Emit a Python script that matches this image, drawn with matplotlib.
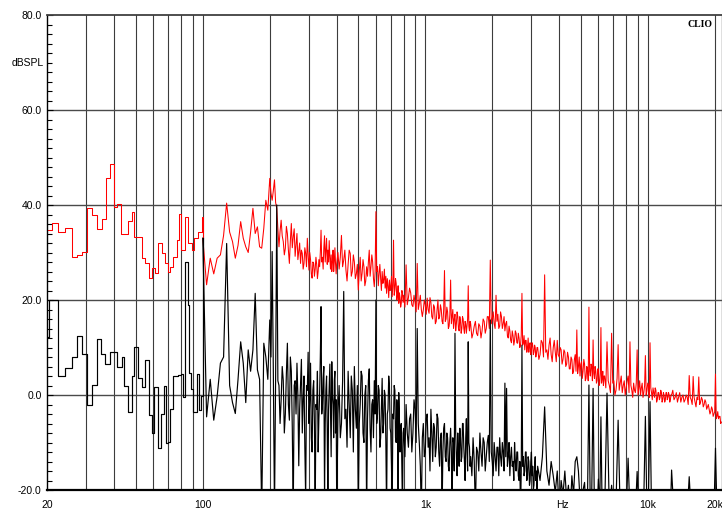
import numpy as np
import matplotlib
matplotlib.use('Agg')
import matplotlib.pyplot as plt
import matplotlib.transforms as mtransforms

plt.rcParams['font.family'] = ['Liberation Sans', 'DejaVu Sans']

# ---- low frequency part (coarse FFT bins, drawn as steps) ----
red_low_f = [20, 20.9, 22.4, 24.0, 25.7, 27.1, 28.7, 30.3, 31.7, 33.3,
             35.1, 36.6, 38.3, 39.9, 41.0, 42.9, 45.9, 47.9, 49.2, 53.1,
             55.0, 57.3, 58.9, 61.0, 63.1, 65.3, 67.6, 69.5, 71.2, 73.7,
             76.3, 78.2, 79.8, 83.2, 86.1, 89.1, 91.6, 95.5, 98.8]
red_low = [34.7, 36.3, 34.3, 35.1, 29.1, 29.4, 30.2, 39.3, 37.9, 35.0,
           37.1, 45.6, 48.6, 39.6, 40.2, 34.0, 36.6, 38.6, 33.2, 28.8,
           27.7, 24.6, 26.7, 25.6, 32.1, 29.8, 27.7, 26.0, 27.0, 29.1,
           32.6, 38.2, 30.5, 37.5, 32.0, 30.5, 33.0, 34.3, 37.5]

black_low_f = [20, 20.4, 22.4, 24.0, 25.7, 27.1, 28.7, 30.3, 31.7, 33.3,
               34.9, 36.3, 38.3, 41.3, 43.2, 44.4, 45.9, 47.9, 49.2, 51.3,
               53.1, 55.0, 57.3, 58.9, 60.5, 63.1, 64.9, 66.7, 68.1, 69.5,
               71.2, 73.7, 77.6, 79.8, 81.7, 83.2, 85.5, 86.7, 88.5, 90.6,
               93.8, 96.1, 98.1]
black_low = [12.3, 20.0, 4.1, 5.6, 8.1, 12.4, 8.6, -2.1, 2.2, 11.7,
             8.7, 6.5, 9.1, 5.9, 7.9, 2.0, -3.5, 4.0, 10.2, 3.5,
             1.7, 7.4, -4.2, -8.1, 1.6, -11.2, -3.9, 2.0, -10.2, -9.9,
             -2.9, 3.9, 4.2, 4.5, -0.5, 28.1, 18.9, 4.6, 1.3, -3.5,
             4.5, -3.2, -0.3]

# ---- dense part, one block per octave (bin spacing of the analyser) ----
red_bins = [np.arange(100, 200, 4), np.arange(200, 400, 2.5), np.arange(400, 800, 5),
            np.arange(800, 1600, 10), np.arange(1600, 3200, 20), np.arange(3200, 6400, 40),
            np.arange(6400, 12800, 80), np.arange(12800, 21600, 160)]
black_bins = [np.arange(100, 200, 4), np.arange(200, 400, 2.5), np.arange(400, 800, 5),
              np.arange(800, 1600, 10), np.arange(1600, 3200, 20), np.arange(3200, 6400, 80),
              np.arange(6400, 12800, 160), np.arange(12800, 21600, 320)]

# red trace (dBSPL)
red_a = [33.0, 23.2, 28.8, 25.5, 28.8, 29.5, 33.6, 40.4, 34.3, 32.3,
         28.8, 31.5, 36.5, 33.0, 31.2, 30.0, 34.3, 39.3, 34.0, 35.4,
         31.2, 30.9, 35.1, 41.0, 38.9]
red_b = [45.6, 42.5, 41.0, 43.0, 45.3, 40.5, 39.3, 35.0, 31.2, 34.5,
         36.8, 33.5, 32.3, 29.5, 30.9, 35.5, 34.0, 30.5, 27.7, 32.5,
         36.1, 31.0, 33.3, 35.0, 29.2, 31.5, 34.0, 28.5, 30.2, 32.0,
         27.7, 30.5, 29.8, 26.5, 27.7, 31.0, 29.8, 27.0, 33.0, 29.5,
         26.3, 30.0, 28.5, 25.5, 24.6, 28.0, 27.7, 25.0, 26.5, 29.0,
         27.5, 24.5, 26.0, 28.5, 27.0, 30.0, 34.7, 28.0, 29.0, 26.5,
         31.0, 33.5, 28.0, 30.5, 33.0, 27.5, 30.5, 28.0, 32.5, 29.0,
         26.5, 29.5, 26.0, 28.0, 30.5, 26.0, 28.0, 31.0, 27.7, 25.5]
red_c = [27.7, 30.0, 26.5, 29.0, 33.6, 27.0, 28.4, 30.5, 26.3, 24.0,
         27.5, 30.5, 29.8, 25.0, 26.0, 29.5, 28.0, 24.5, 25.5, 27.5,
         22.1, 26.0, 29.0, 24.0, 25.6, 28.5, 27.0, 23.0, 24.0, 27.0,
         25.0, 28.0, 30.5, 25.0, 27.0, 29.5, 28.0, 24.5, 22.8, 26.0,
         38.6, 26.0, 27.0, 23.0, 25.6, 27.5, 24.5, 22.0, 26.0, 23.5,
         24.2, 26.5, 22.5, 25.0, 21.4, 24.5, 23.0, 20.5, 24.2, 22.0,
         22.8, 25.0, 20.7, 23.0, 32.6, 21.0, 22.1, 24.5, 23.5, 20.0,
         21.0, 23.0, 19.3, 21.5, 20.5, 18.5, 19.3, 22.0, 21.4, 19.5]
red_d = [21.0, 18.5, 27.4, 19.0, 20.5, 22.5, 21.5, 19.0, 18.6, 21.0,
         19.5, 17.5, 27.7, 18.0, 19.3, 21.0, 18.0, 16.5, 17.9, 20.0,
         19.0, 17.0, 20.4, 18.0, 17.2, 20.5, 19.5, 16.5, 16.0, 19.0,
         18.5, 15.0, 15.5, 18.0, 20.0, 16.0, 16.5, 19.0, 18.0, 15.5,
         15.0, 18.0, 26.2, 15.5, 16.0, 18.5, 17.5, 14.0, 14.5, 17.0,
         24.2, 15.0, 16.5, 18.0, 14.0, 16.0, 17.0, 13.5, 15.0, 17.5,
         16.5, 14.0, 13.5, 16.5, 15.5, 13.0, 14.0, 16.5, 16.0, 14.0,
         13.0, 15.5, 15.0, 13.0, 14.5, 16.0, 23.0, 14.5, 13.5, 15.5]
red_e = [15.0, 12.0, 13.0, 14.5, 15.5, 13.0, 12.5, 15.0, 14.5, 12.0,
         13.5, 16.0, 15.5, 13.0, 14.0, 16.5, 16.5, 14.0, 28.4, 15.0,
         16.0, 17.5, 15.0, 14.0, 21.0, 15.5, 17.0, 14.0, 14.5, 17.5,
         16.5, 14.0, 15.0, 16.5, 13.5, 15.0, 15.5, 12.5, 12.0, 14.5,
         13.5, 11.5, 11.0, 13.5, 12.5, 10.5, 11.5, 13.5, 13.0, 11.0,
         10.9, 13.0, 12.0, 10.0, 10.5, 12.5, 21.4, 10.5, 11.0, 12.5,
         9.5, 11.5, 11.5, 9.0, 10.0, 12.0, 9.0, 10.5, 11.0, 8.5,
         9.5, 11.0, 10.5, 8.5, 9.0, 10.5, 10.0, 8.0, 8.8, 10.0]
red_f = [10.0, 7.5, 8.5, 11.5, 11.0, 8.0, 25.3, 9.0, 9.5, 7.5,
         10.5, 12.0, 8.5, 7.0, 10.0, 11.5, 9.0, 7.0, 11.5, 8.5,
         8.0, 10.0, 9.5, 6.5, 7.5, 9.5, 9.0, 6.0, 6.5, 9.0,
         8.0, 5.5, 5.5, 8.0, 7.5, 4.5, 5.0, 7.5, 8.5, 5.0,
         13.7, 4.5, 6.0, 8.0, 4.0, 6.5, 7.0, 3.5, 5.0, 7.5,
         6.5, 3.0, 3.5, 6.0, 5.5, 3.0, 18.5, 5.0, 4.0, 6.5,
         6.0, 3.0, 11.6, 4.5, 3.5, 6.0, 5.0, 2.5, 3.0, 5.5,
         5.5, 2.0, 2.5, 4.5, 14.2, 2.5, 3.5, 5.0, 2.0, 4.0]
red_g = [4.0, 1.5, 11.2, 3.0, 2.0, 0.5, 13.0, 2.5, 3.0, 0.0,
         1.0, 3.5, 10.6, 1.0, 2.5, 4.0, 0.5, 2.0, 3.0, 0.0,
         1.5, 3.0, 4.0, 0.5, 11.2, 2.0, 1.0, -0.5, 2.5, 1.0,
         0.5, 2.5, 9.5, 0.0, 1.5, 3.0, 0.0, 1.5, 2.5, -0.5,
         0.5, 2.0, 8.3, 0.0, 1.0, 2.5, 2.0, -0.5, 11.0, 1.5,
         0.5, -1.0, 1.5, 0.5, -0.5, 1.5, 1.0, -1.5, -1.0, 0.5,
         0.5, -1.0, -0.5, 1.0, 0.5, -1.5, -1.0, 0.5, 0.0, -1.5,
         -1.0, 0.5, 0.5, -1.0, -0.5, 0.5, 0.0, -1.5, -1.0, 0.0]
red_h = [0.0, 1.0, -1.0, -0.5, 0.5, -1.5, -0.5, 0.5, -1.5, -0.5,
         0.0, -1.5, -1.0, 0.0, -0.5, -2.0, 4.1, -0.5, -1.0, -2.0,
         3.9, -0.5, -1.5, -2.5, -0.5, -1.0, 3.8, -2.0, -1.5, -0.5,
         -1.0, -2.5, -2.0, -1.0, -1.5, -3.0, -2.5, -2.0, -3.0, -4.0,
         -3.5, -2.5, -3.0, -4.5, -4.0, -3.5, 4.4, -5.0, -4.5, -3.5,
         -5.0, -4.5, -4.5, -6.0, -5.7]

# black trace (dBSPL), values below -20 fall off the chart
black_a = [33.0, -4.6, 3.3, -5.3, -0.3, 6.7, 8.0, 31.9, 2.0, -1.6,
           -3.9, 3.3, 11.2, 6.7, -1.6, 9.5, 5.0, 9.5, 21.4, 5.3,
           3.3, -25.0, 10.9, 8.0, 3.3]
black_b = [15.8, 8.0, 30.2, 5.0, -25.0, 4.0, 40.0, 3.0, 2.0, -6.0,
           -1.0, 6.0, 3.0, -8.0, -4.0, 4.5, 10.9, -2.0, -5.3, 8.0,
           5.0, -7.0, -25.0, 2.0, 3.0, -4.0, 6.7, 0.0, -14.9, -3.0,
           2.0, 7.5, -8.0, -1.0, 4.0, -11.0, -22.0, 2.0, 1.0, 9.0,
           -6.0, -1.0, 6.7, -9.0, -12.0, 1.0, 3.0, -6.0, -25.0, -2.0,
           -3.0, 5.0, -12.0, -5.0, 0.0, 8.0, 18.6, -4.0, -2.0, 3.5,
           6.0, -21.0, -6.0, 1.0, 4.0, -7.0, -25.0, -3.0, 2.0, 6.5,
           -4.0, -13.0, 7.0, 0.0, -2.0, -9.0, 3.0, 5.0, -8.0, -1.0]
black_c = [-25.0, -4.0, 2.0, -9.0, -6.0, 3.0, 21.8, -5.0, -3.0, -11.0,
           5.0, -2.0, -9.0, 4.0, 1.0, -12.0, 6.0, -3.0, -7.0, 2.0,
           -25.0, -6.0, -2.0, 5.0, 4.0, -8.0, -10.0, 0.0, 2.0, -25.0,
           -5.0, 3.0, 5.5, -7.0, -12.0, -2.0, -1.0, -9.0, 3.0, -4.0,
           20.0, -6.0, -4.0, 2.0, 1.0, -11.0, -9.0, -3.0, 3.5, -8.0,
           -6.0, 1.0, 0.0, -10.0, -25.0, -4.0, -3.0, 4.0, 2.0, -7.0,
           -8.0, -15.0, -25.0, -4.0, -5.0, 2.0, 1.0, -9.0, -10.0, -1.0,
           -3.0, -25.0, 0.5, -5.0, -12.0, -7.0, -6.0, -16.0, -25.0, -8.0]
black_d = [-7.0, -13.0, -2.0, -8.0, -11.0, -5.0, -4.0, -12.0, -8.0, -1.0,
           -3.0, -10.0, 14.0, -6.0, -10.0, -15.0, -25.0, -9.0, -6.0, -13.0,
           -12.0, -5.0, -4.0, -11.0, -9.0, -16.0, -3.0, -8.0, -14.0, -6.0,
           -7.0, -13.0, -11.0, -4.0, -5.0, -12.0, -15.0, -9.0, -8.0, -25.0,
           -12.0, -7.0, -6.0, -13.0, -14.0, -8.0, -9.0, -15.0, -16.0, -10.0,
           -7.0, -12.0, -25.0, -9.0, -10.0, -16.0, 13.0, -8.0, -13.0, -17.0,
           -8.0, -12.0, -15.0, -7.0, -9.0, -14.0, -13.0, -6.0, -6.0, -11.0,
           -14.0, -18.0, -9.0, -5.0, -12.0, -16.0, 11.2, -10.0, -11.0, -15.0]
black_e = [-13.0, -17.0, -9.0, -14.0, -25.0, -11.0, -12.0, -16.0, -8.0, -12.0,
           -15.0, -9.0, -10.0, -16.0, -13.0, -10.0, -8.5, -14.0, 15.8, -12.0,
           -14.0, -17.0, -10.0, -13.0, -16.0, -11.0, -11.0, -17.0, -9.0, -13.0,
           -15.0, -10.0, -12.0, -16.0, 2.5, -13.0, 1.4, -15.0, -13.0, -10.0,
           -17.0, -13.0, -11.0, -15.0, -14.0, -18.0, -10.0, -14.0, -16.0, -12.0,
           -12.0, -17.0, -18.0, -14.0, -25.0, -16.0, 10.5, -15.0, -13.0, -17.0,
           -16.0, -12.0, -12.0, -18.0, -17.0, -13.0, -14.0, -19.0, -18.0, -14.0,
           -12.0, -17.0, -15.0, -20.0, -19.0, -15.0, -13.0, -18.0, -16.0, -21.0]
black_f = [-15.0, -18.0, -13.0, -2.5, -16.0, -19.0, -14.0, -17.0, -20.5, -16.0,
           -25.0, -18.0, -21.0, -16.0, -22.0, -19.0, -25.0, -17.0, -21.0, -14.0,
           -13.0, -16.0, -22.0, -25.0, -20.0, -18.4, -25.0, -22.0, 2.1, -25.0,
           -21.0, 1.4, -25.0, -22.0, -25.0, -17.7, -25.0, -4.6, -25.0, -21.0]
black_g = [-25.0, 0.4, -25.0, -19.0, -25.0, -23.0, -5.3, -25.0, -25.0, -22.0,
           -25.0, -13.3, -25.0, -25.0, -23.0, -25.0, -16.1, -25.0, -25.0, -25.0,
           -22.0, -4.5, -25.0, -21.0, -1.4, -25.0, -22.0, -25.0, -25.0, -25.0,
           -25.0, -25.0, -25.0, -25.0, -25.0, -25.0, -25.0, -25.0, -25.0, -25.0]
black_h = [-15.8, -25.0, -25.0, -25.0, -25.0, -25.0, -25.0, -25.0, -17.2, -25.0,
           -25.0, -25.0, -25.0, -25.0, -25.0, -25.0, -25.0, -25.0, -25.0, -25.0,
           -25.0, -25.0, -25.0, -11.2, -25.0, -25.0, -25.0, -25.0]

red_f_hz = np.concatenate(red_bins)
black_f_hz = np.concatenate(black_bins)
red_dense = red_a + red_b + red_c + red_d + red_e + red_f + red_g + red_h
black_dense = black_a + black_b + black_c + black_d + black_e + black_f + black_g + black_h

# grid / axis labels
grid_f = [30, 40, 50, 60, 70, 80, 90, 100, 200, 300, 400, 500, 600, 700, 800, 900,
          1000, 2000, 3000, 4000, 5000, 6000, 7000, 8000, 9000, 10000, 20000]
grid_db = [0, 20, 40, 60]
xlabel_pos = [20, 100, 1000, 4150, 10000, 20000]
xlabel_txt = ['20', '100', '1k', 'Hz', '10k', '20k']

fig = plt.figure(figsize=(7.22, 5.11), dpi=100)
ax = fig.add_axes([47.3 / 722, 1 - 490 / 511, 674.4 / 722, 475 / 511])

for f in grid_f:
    ax.axvline(f, color='#3c3c3c', lw=0.8, zorder=1)
for d in grid_db:
    ax.axhline(d, color='#4a4a4a', lw=1.0, zorder=1)

ax.plot(red_low_f + [100], red_low + [red_dense[0]], drawstyle='steps-post',
        color='#ff0000', lw=0.75, zorder=3)
ax.plot(red_f_hz, red_dense, color='#ff0000', lw=0.75, zorder=3)
ax.plot(black_low_f + [100], black_low + [black_dense[0]], drawstyle='steps-post',
        color='black', lw=0.85, zorder=4)
ax.plot(black_f_hz, black_dense, color='black', lw=0.85, zorder=4)

ax.set_xscale('log')
ax.set_xlim(20, 21500)
ax.set_ylim(-20, 80)

ax.set_xticks(xlabel_pos)
ax.set_xticklabels(xlabel_txt)
ax.xaxis.set_minor_locator(matplotlib.ticker.NullLocator())
ax.tick_params(axis='x', length=0, pad=7, labelsize=7.5)

ax.set_yticks(np.arange(-20, 81, 20))
ax.set_yticklabels(['%.1f' % v for v in np.arange(-20, 81, 20)])
ax.set_yticks(np.arange(-20, 81, 2), minor=True)
ax.tick_params(axis='y', which='major', direction='in', length=4, width=0.8, pad=4, labelsize=7.5)
ax.tick_params(axis='y', which='minor', direction='in', length=3.5, width=0.8)

for side in ['top', 'bottom', 'left', 'right']:
    ax.spines[side].set_zorder(5)
ax.spines['top'].set_color('#404040')
ax.spines['top'].set_linewidth(1.3)
ax.spines['bottom'].set_color('black')
ax.spines['bottom'].set_linewidth(1.6)
ax.spines['left'].set_color('black')
ax.spines['left'].set_linewidth(1.0)
ax.spines['right'].set_color('#606060')
ax.spines['right'].set_linewidth(1.0)

trans = mtransforms.blended_transform_factory(ax.transAxes, ax.transData)
ax.text(-0.006, 70, 'dBSPL', transform=trans, ha='right', va='center', fontsize=7.5)
ax.text(0.986, 0.98, 'CLIO', transform=ax.transAxes, ha='right', va='center',
        fontsize=7, fontweight='bold', family=['Liberation Serif', 'DejaVu Serif'])

fig.savefig('out.png', dpi=100)
